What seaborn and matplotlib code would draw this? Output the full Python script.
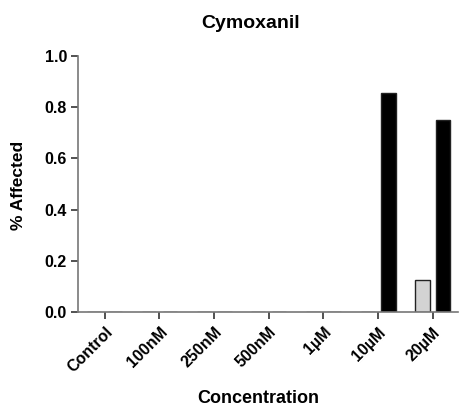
import matplotlib
matplotlib.use("Agg")
import matplotlib.pyplot as plt
import seaborn as sns
import pandas as pd

categories = ["Control", "100nM", "250nM", "500nM", "1\u00b5M", "10\u00b5M", "20\u00b5M"]
series_names = ["A", "B"]
values_a = [0, 0, 0, 0, 0, 0, 0.125]
values_b = [0, 0, 0, 0, 0, 0.857, 0.75]
yticks = [0.0, 0.2, 0.4, 0.6, 0.8, 1.0]

df = pd.DataFrame({
    "Concentration": categories * 2,
    "Series": [series_names[0]] * len(categories) + [series_names[1]] * len(categories),
    "Affected": values_a + values_b,
})

sns.set_style("white")
plt.rcParams["font.family"] = ["Liberation Sans", "DejaVu Sans"]
plt.rcParams["font.weight"] = "bold"
plt.rcParams["text.color"] = "black"
plt.rcParams["xtick.color"] = "black"
plt.rcParams["ytick.color"] = "black"

fig = plt.figure(figsize=(4.59, 4.09), dpi=100)
ax = fig.add_axes([78 / 459, 1 - 312 / 409, 380 / 459, 256 / 409])

sns.barplot(data=df, x="Concentration", y="Affected", hue="Series",
            order=categories, hue_order=series_names,
            palette={"A": "#d3d3d3", "B": "#000000"},
            width=0.76, gap=0.32, dodge=True, legend=False,
            edgecolor="#222222", linewidth=1.0, errorbar=None, ax=ax)

ax.set_xlim(-0.49, 6.46)
ax.set_ylim(0, 1.0)
ax.set_yticks(yticks)
ax.set_yticklabels([f"{v:.1f}" for v in yticks], fontsize=11.5, fontweight="bold",
                   color="black")
ax.set_xticks(range(len(categories)))
ax.set_xticklabels(categories, rotation=45, ha="right", rotation_mode="anchor",
                   fontsize=11.5, fontweight="bold", color="black")
ax.set_xlabel("")
ax.set_ylabel("")

for s in ["top", "right"]:
    ax.spines[s].set_visible(False)
for s in ["left", "bottom"]:
    ax.spines[s].set_color("#777777")
    ax.spines[s].set_linewidth(1.2)
ax.tick_params(axis="both", direction="out", length=5, width=1.2, color="#333333",
               left=True, bottom=True)
ax.tick_params(axis="y", pad=3)
ax.tick_params(axis="x", pad=4)

fig.text(251 / 459, 1 - 28 / 409, "Cymoxanil", ha="center", va="baseline",
         fontsize=14, fontweight="bold", color="black")
fig.text(258 / 459, 1 - 403 / 409, "Concentration", ha="center", va="baseline",
         fontsize=13, fontweight="bold", color="black")
fig.text(18.5 / 459, 1 - 185 / 409, "% Affected", ha="center", va="center",
         rotation=90, fontsize=12.5, fontweight="bold", color="black")

fig.savefig("out.png", dpi=100)
